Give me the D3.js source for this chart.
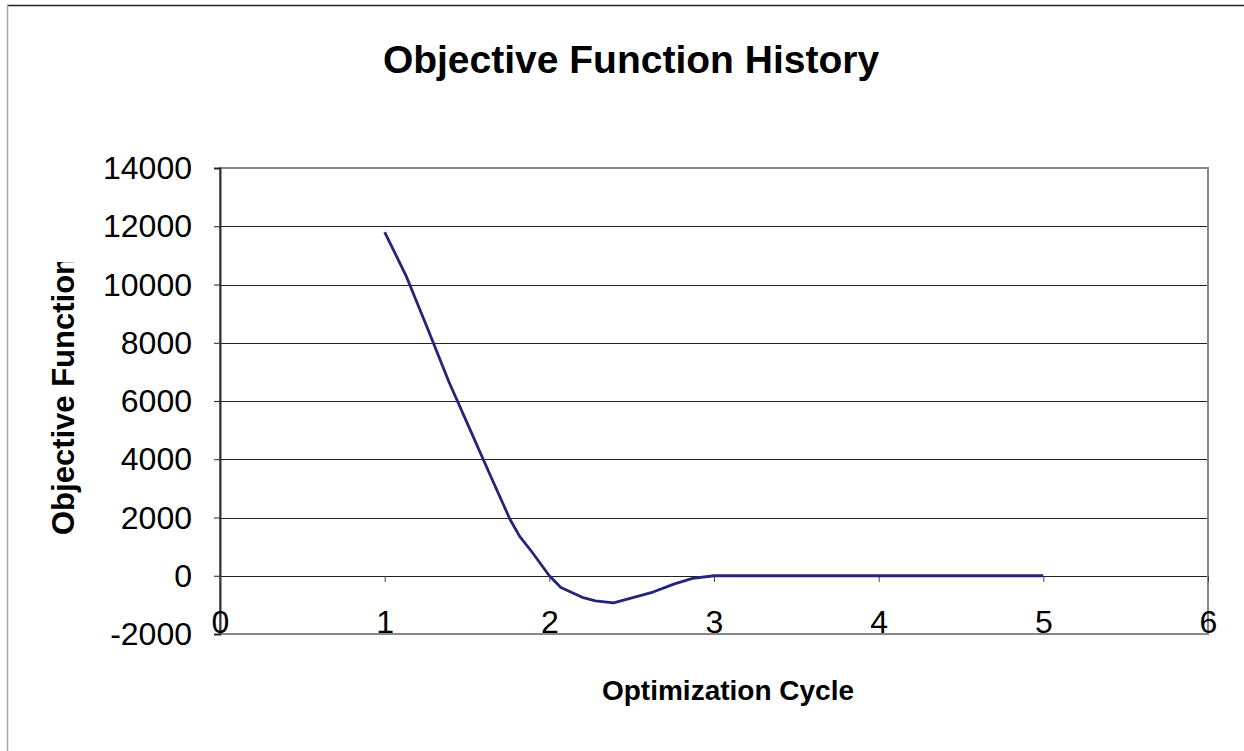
<!DOCTYPE html>
<html><head><meta charset="utf-8">
<script src="https://cdn.jsdelivr.net/npm/d3@7"></script>
<style>body{margin:0;background:#fff}svg{display:block}text{font-family:"Liberation Sans",Arial,sans-serif}</style>
</head><body>
<script>
const cycles = [1.0, 1.13, 1.26, 1.39, 1.52, 1.65, 1.76, 1.82, 1.89, 2.0, 2.07, 2.2, 2.28, 2.39, 2.63, 2.76, 2.87, 3.0, 3.5, 4.0, 4.5, 5.0];
const objective = [11800, 10300, 8500, 6660, 5000, 3340, 1950, 1350, 850, 0, -400, -740, -860, -930, -560, -280, -90, 0, 0, 0, 0, 0];
const xTicks = [0, 1, 2, 3, 4, 5, 6];
const yTicks = [-2000, 0, 2000, 4000, 6000, 8000, 10000, 12000, 14000];
const title = "Objective Function History";
const xTitle = "Optimization Cycle";
const yTitle = "Objective Function";

const W = 1244, H = 751;
const svg = d3.select("body").append("svg").attr("width", W).attr("height", H);
const L = 220, R = 1208, T = 168, B = 634;
const x = d3.scaleLinear().domain([0, 6]).range([L, R]);
const y = d3.scaleLinear().domain([-2000, 14000]).range([B, T]);

// outer chart border
svg.append("line").attr("x1", 7).attr("x2", W).attr("y1", 5.5).attr("y2", 5.5).attr("stroke", "#222").attr("stroke-width", 1.5);
svg.append("line").attr("x1", 7.5).attr("x2", 7.5).attr("y1", 5).attr("y2", H).attr("stroke", "#aaa").attr("stroke-width", 1.5);

// gridlines
svg.append("g").selectAll("line").data(yTicks.filter(v => v > -2000 && v < 14000)).join("line")
  .attr("x1", L).attr("x2", R).attr("y1", d => Math.round(y(d)) + 0.5).attr("y2", d => Math.round(y(d)) + 0.5)
  .attr("stroke", "#222").attr("stroke-width", 1);

// plot border
svg.append("rect").attr("x", L).attr("y", T).attr("width", R - L).attr("height", B - T)
  .attr("fill", "none").attr("stroke", "#888").attr("stroke-width", 2);

// y axis
const yAxis = d3.axisLeft(y).tickValues(yTicks).tickSize(6).tickPadding(22).tickFormat(d => String(d));
const ya = svg.append("g").attr("transform", `translate(${L},0)`).call(yAxis);
ya.select(".domain").attr("stroke", "#333").attr("stroke-width", 2);
ya.selectAll(".tick line").attr("stroke", "#222");
ya.selectAll("text").attr("font-size", 32).attr("fill", "#000").attr("font-family", "Liberation Sans, Arial, sans-serif").attr("dy", "0.33em");

// x axis at y=0
const xAxis = d3.axisBottom(x).tickValues(xTicks).tickSize(6).tickPadding(0).tickFormat(d => String(d));
const xa = svg.append("g").attr("transform", `translate(0,${Math.round(y(0))})`).call(xAxis);
xa.select(".domain").remove();
xa.selectAll(".tick line").attr("stroke", "#444");
xa.selectAll("text").attr("font-size", 32).attr("fill", "#000").attr("font-family", "Liberation Sans, Arial, sans-serif")
  .attr("y", 0).attr("dy", 0).attr("transform", `translate(0,${B - y(0) - 1})`);

// line
const line = d3.line().x((d, i) => x(cycles[i])).y(d => y(d));
svg.append("path").datum(objective).attr("d", line).attr("fill", "none")
  .attr("stroke", "#24247a").attr("stroke-width", 2.8).attr("stroke-linejoin", "round");

// titles
svg.append("text").attr("x", 631).attr("y", 73).attr("text-anchor", "middle")
  .attr("font-size", 39).attr("font-weight", "bold").text(title);
svg.append("text").attr("x", 728).attr("y", 700).attr("text-anchor", "middle")
  .attr("font-size", 28).attr("font-weight", "bold").text(xTitle);
svg.append("clipPath").attr("id", "yc").append("rect").attr("x", 0).attr("y", 262).attr("width", 200).attr("height", 400);
svg.append("g").attr("clip-path", "url(#yc)").append("text")
  .attr("transform", "translate(74,535) rotate(-90)").attr("text-anchor", "start")
  .attr("font-size", 31).attr("font-weight", "bold").text(yTitle);
</script>
</body></html>
